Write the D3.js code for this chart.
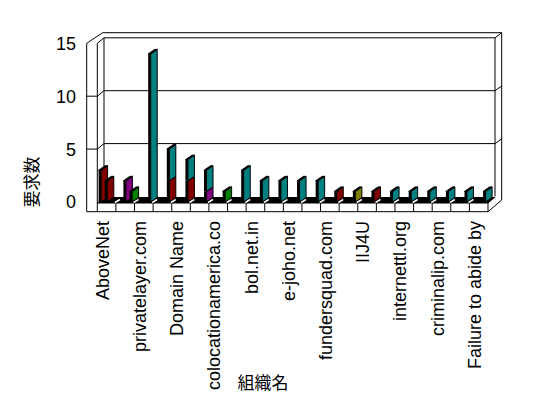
<!DOCTYPE html>
<html>
<head>
<meta charset="utf-8">
<script src="https://cdn.jsdelivr.net/npm/d3@7"></script>
<style>
  body { margin: 0; background: #fff; }
  text { font-family: "Liberation Sans", Arial, sans-serif; fill: #000; }
  .jp { font-family: "Noto Sans CJK JP", sans-serif; }
</style>
</head>
<body>
<svg width="548" height="398"></svg>
<script>
// organisations (only every other label is printed on the chart)
const orgLabels = ["AboveNet", "", "privatelayer.com", "", "Domain Name", "",
  "colocationamerica.co", "", "bol.net.in", "", "e-joho.net", "", "fundersquad.com", "",
  "IIJ4U", "", "internettl.org", "", "criminalip.com", "", "Failure to abide by"];
const yTicks = [0, 5, 10, 15];

// lane 0 / lane 1 columns (only used in the first two slots)
const redLane0 = [3, 0, 0, 0, 0, 0, 0, 0, 0, 0, 0, 0, 0, 0, 0, 0, 0, 0, 0, 0, 0];
const redLane1 = [2, 0, 0, 0, 0, 0, 0, 0, 0, 0, 0, 0, 0, 0, 0, 0, 0, 0, 0, 0, 0];
const purpleLane1 = [0, 2, 0, 0, 0, 0, 0, 0, 0, 0, 0, 0, 0, 0, 0, 0, 0, 0, 0, 0, 0];
// main (stacked) column
const redMain = [0, 0, 0, 2, 2, 0, 0, 0, 0, 0, 0, 0, 1, 0, 1, 0, 0, 0, 0, 0, 0];
const purpleMain = [0, 0, 0, 0, 0, 1, 0, 0, 0, 0, 0, 0, 0, 0, 0, 0, 0, 0, 0, 0, 0];
const greenMain = [0, 1, 0, 0, 0, 0, 1, 0, 0, 0, 0, 0, 0, 0, 0, 0, 0, 0, 0, 0, 0];
const oliveMain = [0, 0, 0, 0, 0, 0, 0, 0, 0, 0, 0, 0, 0, 1, 0, 0, 0, 0, 0, 0, 0];
const tealMain = [0, 0, 14, 3, 2, 2, 0, 3, 2, 2, 2, 2, 0, 0, 0, 1, 1, 1, 1, 1, 1];

const series = [
  { values: redLane0, color: "#800000", lane: 0 },
  { values: redLane1, color: "#800000", lane: 1 },
  { values: purpleLane1, color: "#800080", lane: 1 },
  { values: redMain, color: "#800000", lane: 2 },
  { values: purpleMain, color: "#800080", lane: 2 },
  { values: greenMain, color: "#008000", lane: 2 },
  { values: oliveMain, color: "#808000", lane: 2 },
  { values: tealMain, color: "#008080", lane: 2 }
];

const svg = d3.select("svg");
const left = 97.3, right = 488, floorY = 203, baseY = 211.7;
const DX = 6.7, DY = -5.5;      // wall depth
const FW = 2.5, SDX = 6.5, SDY = -4.5;  // bar front width, bar depth

const x = d3.scaleBand().domain(d3.range(orgLabels.length)).range([left, right]);
const lane = d3.scaleBand().domain([0, 1, 2]).range([0, x.bandwidth()]);
const y = d3.scaleLinear().domain([0, 15]).range([202, 43.3]);

const line = (pts) => "M" + pts.map(p => p.join(",")).join("L");
const g = svg.append("g").attr("fill", "none").attr("stroke", "#000").attr("stroke-width", 1);

// outer frame
g.append("path").attr("d", line([[86.7, y(15)], [102.7, 32.7], [501.7, 32.7], [501.7, 200],
  [right, baseY], [86.7, baseY]]) + "Z");
// left wall inner edge and back wall
g.append("path").attr("d", line([[left, y(15)], [left, baseY]]));
g.append("path").attr("d", line([[left, y(15)], [left + DX, y(15) + DY], [495, y(15) + DY], [501.7, 32.7]]));
g.append("path").attr("d", line([[left + DX, y(15) + DY], [left + DX, y(0) + DY]]));
g.append("path").attr("d", line([[495, y(15) + DY], [495, y(0) + DY]]));

// gridlines and left-wall ticks
yTicks.filter(v => v > 0 && v < 15).forEach(v => {
  g.append("path").attr("d", line([[86.7, y(v)], [left, y(v)], [left + DX, y(v) + DY],
    [495, y(v) + DY], [501.7, y(v) + DY - 4.7]]));
});

// floor top (black) and front strip with category cells
svg.append("path")
  .attr("d", line([[left, floorY], [right, floorY], [495, floorY - 6], [left + DX, floorY - 6]]) + "Z")
  .attr("fill", "#000");
g.append("path").attr("d", line([[left, floorY], [right, floorY]]));
g.append("path").attr("d", line([[right, baseY], [right, floorY], [495, floorY - 6]]));
x.domain().slice(1).forEach(i => {
  g.append("path").attr("d", line([[x(i), floorY], [x(i), baseY]]));
  svg.append("path").attr("d", line([[x(i) - 1, floorY - 0.5], [x(i) + 4, floorY - 3.5]]))
    .attr("stroke", "#fff").attr("stroke-width", 1.5);
});

// columns
const bars = [];
x.domain().forEach(i => {
  [0, 1, 2].forEach(l => {
    let acc = 0;
    const segs = [];
    series.filter(s => s.lane === l).forEach(s => {
      const v = s.values[i];
      if (v > 0) { segs.push({ v0: acc, v1: acc + v, color: s.color }); acc += v; }
    });
    if (segs.length) bars.push({ i, l, segs });
  });
});

const barG = svg.append("g");
bars.forEach(b => {
  const x0 = x(b.i) + lane(b.l) + 1.3;
  const bg = barG.append("g");
  b.segs.forEach(s => {
    const yb = y(s.v0), yt = y(s.v1);
    bg.append("path")
      .attr("d", line([[x0 + FW, yb], [x0 + FW, yt], [x0 + FW + SDX, yt + SDY], [x0 + FW + SDX, yb + SDY]]) + "Z")
      .attr("fill", s.color).attr("stroke", "#000");
    bg.append("rect").attr("x", x0).attr("y", yt).attr("width", FW).attr("height", yb - yt)
      .attr("fill", "#000");
  });
  const yt = y(b.segs[b.segs.length - 1].v1);
  bg.append("path")
    .attr("d", line([[x0, yt], [x0 + FW, yt], [x0 + FW + SDX, yt + SDY], [x0 + SDX, yt + SDY]]) + "Z")
    .attr("fill", "#000").attr("stroke", "#000");
});

// y tick labels
svg.append("g").selectAll("text").data(yTicks).join("text")
  .attr("x", 76).attr("y", d => y(d)).attr("dy", "0.36em")
  .attr("text-anchor", "end").attr("font-size", 18).text(d => d);

// category labels
svg.append("g").selectAll("text").data(orgLabels.map((t, i) => ({ t, i })).filter(d => d.t))
  .join("text")
  .attr("transform", d => `translate(${x(d.i) + 11.5},221) rotate(-90)`)
  .attr("text-anchor", "end").attr("font-size", 18).text(d => d.t);

// axis titles
svg.append("text").attr("class", "jp").attr("transform", "translate(38,182) rotate(-90)")
  .attr("text-anchor", "middle").attr("font-size", 17).text("要求数");
svg.append("text").attr("class", "jp").attr("x", 263).attr("y", 389)
  .attr("text-anchor", "middle").attr("font-size", 17).text("組織名");
</script>
</body>
</html>
